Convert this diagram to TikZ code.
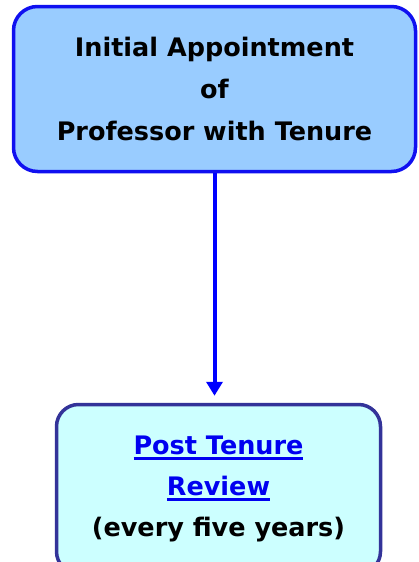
\documentclass[tikz,border=0pt]{standalone}
\usepackage{fontspec}
\setmainfont{DejaVu Sans}
\usetikzlibrary{arrows.meta}
\definecolor{apptfill}{HTML}{99CCFF}
\definecolor{apptline}{RGB}{16,16,240}
\definecolor{reviewfill}{HTML}{CCFFFF}
\definecolor{reviewline}{HTML}{333399}
\definecolor{linkblue}{RGB}{0,0,240}
\newcommand{\linktext}[1]{\textcolor{linkblue}{\setbox0\hbox{#1}%
  \rlap{\rule[-5pt]{\wd0}{2.2pt}}\box0}}

\begin{document}
\begin{tikzpicture}[x=1pt, y=-1pt,
    topbox/.style={draw=apptline, fill=apptfill, line width=3.5pt,
      rounded corners=24pt, minimum width=402pt, minimum height=165pt,
      align=center, font=\fontsize{25.5}{42}\selectfont\bfseries},
    reviewbox/.style={draw=reviewline, fill=reviewfill, line width=3.5pt,
      rounded corners=22pt, minimum width=324pt, minimum height=169pt,
      align=center, font=\fontsize{25.5}{41}\selectfont\bfseries},
    flow/.style={draw=blue, line width=4pt,
      -{Triangle[length=14pt,width=16pt]}, shorten >=7pt}
    ]
    \useasboundingbox (0,0) rectangle (418,562);
    \node[topbox] (appt) at (214.5,89)
      {Initial Appointment\\of\\Professor with Tenure};
    \node[reviewbox] (review) at (218.5,489)
      {\linktext{Post Tenure}\\\linktext{Review}\\(every five years)};
    \draw[flow] (appt.south) -- (appt.south |- review.north);
  \end{tikzpicture}
\end{document}
